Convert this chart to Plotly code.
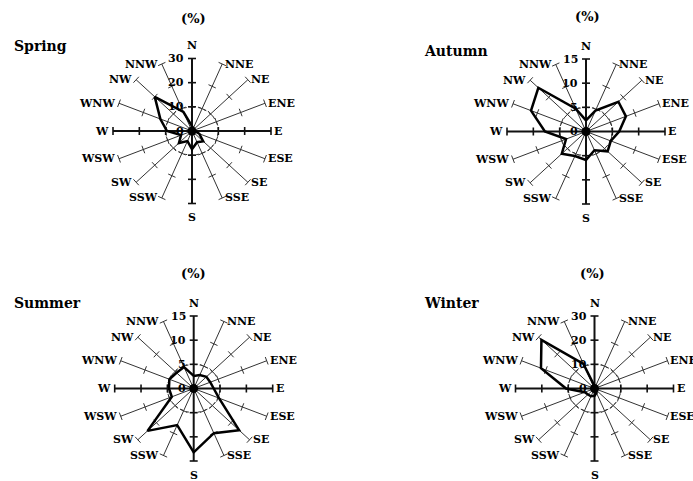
import numpy as np
import plotly.graph_objects as go

# ---------------- data ----------------
directions = ["N", "NNE", "NE", "ENE", "E", "ESE", "SE", "SSE",
              "S", "SSW", "SW", "WSW", "W", "WNW", "NW", "NNW"]
seasons = ["Spring", "Autumn", "Summer", "Winter"]
spring = [2, 1, 1, 1, 1.2, 3, 6, 5, 7.5, 4.5, 7, 4.5, 9.5, 13, 20, 8.5]
autumn = [2.3, 4.7, 8.7, 8.2, 6.3, 5.1, 5.8, 4.2, 5.9, 5.5, 6.5, 4.1, 7.8, 11.3, 12.8, 5.1]
summer = [2.6, 3, 3.4, 3.4, 3.8, 5.2, 12.2, 10, 13.2, 8.2, 12.4, 4.5, 4.7, 5, 4.6, 4.8]
winter = [1, 1, 1, 1, 1, 1, 1, 2, 3, 3.5, 3.5, 4, 10.8, 22, 28.5, 11]
season_values = [spring, autumn, summer, winter]
axis_max = [30, 15, 15, 30]
tick_step = [10, 5, 5, 10]
unit_label = "(%)"

# ---------------- geometry / style ----------------
W, H = 693, 481
RX, RY = 79.0, 72.5           # pixel half-length of spokes (horizontal, vertical)
centers = [(192, 131), (586, 131.5), (193.7, 388.5), (594.5, 388.5)]
boxes = [(0, 346, 0, 240), (346, 693, 0, 240), (0, 346, 240, 481), (346, 693, 240, 481)]
title_pos = [(193.3, 18.3), (587.5, 16.7), (193.3, 273.3), (592.5, 273)]
season_pos = [(11.7, 46.5), (421.7, 51), (11.7, 302.5), (421.7, 302.5)]
FONT = "DejaVu Serif"
TICK_HALF = 4.0
THIN = "#333333"

angles = np.deg2rad(np.arange(len(directions)) * 360.0 / len(directions))

fig = go.Figure()
annotations = []
layout_axes = {}

for k, (name, vals, R, step) in enumerate(zip(seasons, season_values, axis_max, tick_step)):
    cx, cy = centers[k]
    x0, x1, y0, y1 = boxes[k]
    sx, sy = RX / R, RY / R
    sfx = "" if k == 0 else str(k + 1)
    xa, ya = "x" + sfx, "y" + sfx
    layout_axes["xaxis" + sfx] = dict(domain=[x0 / W, x1 / W],
                                      range=[(x0 - cx) / sx, (x1 - cx) / sx],
                                      visible=False, fixedrange=True, anchor=ya)
    layout_axes["yaxis" + sfx] = dict(domain=[1 - y1 / H, 1 - y0 / H],
                                      range=[(cy - y1) / sy, (cy - y0) / sy],
                                      visible=False, fixedrange=True, anchor=xa)

    thin_x, thin_y, thick_x, thick_y = [], [], [], []
    tthin_x, tthin_y, tthick_x, tthick_y = [], [], [], []
    ticks = list(np.arange(step, R + step / 2, step))
    for i, th in enumerate(angles):
        main = (i % 4 == 0)
        sxl, syl = (thick_x, thick_y) if main else (thin_x, thin_y)
        txl, tyl = (tthick_x, tthick_y) if main else (tthin_x, tthin_y)
        sxl += [0, R * np.sin(th), None]
        syl += [0, R * np.cos(th), None]
        ex, ey = np.sin(th) * sx, np.cos(th) * sy
        n = np.hypot(ex, ey)
        ex, ey = ex / n, ey / n
        px, py = -ey * TICK_HALF / sx, ex * TICK_HALF / sy
        for t in ticks:
            bx, by = t * np.sin(th), t * np.cos(th)
            txl += [bx - px, bx + px, None]
            tyl += [by - py, by + py, None]

    fig.add_trace(go.Scatter(x=thin_x, y=thin_y, mode="lines", xaxis=xa, yaxis=ya,
                             line=dict(color=THIN, width=1), hoverinfo="skip", showlegend=False))
    fig.add_trace(go.Scatter(x=tthin_x, y=tthin_y, mode="lines", xaxis=xa, yaxis=ya,
                             line=dict(color=THIN, width=1), hoverinfo="skip", showlegend=False))
    t = np.linspace(0, 2 * np.pi, 121)
    fig.add_trace(go.Scatter(x=step * np.sin(t), y=step * np.cos(t), mode="lines", xaxis=xa, yaxis=ya,
                             line=dict(color=THIN, width=1, dash="3px,3px"),
                             hoverinfo="skip", showlegend=False))
    fig.add_trace(go.Scatter(x=thick_x, y=thick_y, mode="lines", xaxis=xa, yaxis=ya,
                             line=dict(color="#111111", width=2), hoverinfo="skip", showlegend=False))
    fig.add_trace(go.Scatter(x=tthick_x, y=tthick_y, mode="lines", xaxis=xa, yaxis=ya,
                             line=dict(color="#111111", width=1.6), hoverinfo="skip", showlegend=False))
    v = np.array(vals + [vals[0]], dtype=float)
    a = np.append(angles, angles[0])
    fig.add_trace(go.Scatter(x=v * np.sin(a), y=v * np.cos(a), mode="lines", xaxis=xa, yaxis=ya,
                             line=dict(color="black", width=2.5), name=name,
                             text=directions + [directions[0]],
                             hovertemplate="%{text}<extra></extra>", showlegend=False))
    fig.add_trace(go.Scatter(x=[0], y=[0], mode="markers", xaxis=xa, yaxis=ya,
                             marker=dict(color="black", size=9), hoverinfo="skip", showlegend=False))

    for i, th in enumerate(angles):
        ex, ey = R * np.sin(th), R * np.cos(th)
        d = directions[i]
        if d == "N":
            an = dict(xanchor="center", yanchor="middle", yshift=13)
        elif d == "S":
            an = dict(xanchor="center", yanchor="middle", yshift=-14)
        elif np.sin(th) > 1e-6:
            an = dict(xanchor="left", yanchor="middle", xshift=1)
        else:
            an = dict(xanchor="right", yanchor="middle", xshift=-2)
        annotations.append(dict(x=ex, y=ey, xref=xa, yref=ya, text=d,
                                showarrow=False,
                                font=dict(family=FONT, size=11, color="black", weight="bold"), **an))
    for t in [0] + ticks:
        annotations.append(dict(x=0, y=t, xref=xa, yref=ya, text="%g" % t, showarrow=False,
                                xanchor="right", yanchor="middle", xshift=-6,
                                font=dict(family=FONT, size=11, color="black", weight="bold")))
    tx, ty = title_pos[k]
    annotations.append(dict(x=tx / W, y=1 - ty / H, xref="paper", yref="paper", text=unit_label,
                            showarrow=False, xanchor="center", yanchor="middle",
                            font=dict(family=FONT, size=13, color="black", weight="bold")))
    lx, ly = season_pos[k]
    annotations.append(dict(x=lx / W, y=1 - ly / H, xref="paper", yref="paper", text=name,
                            showarrow=False, xanchor="left", yanchor="middle",
                            font=dict(family=FONT, size=14, color="black", weight="bold")))

fig.update_layout(width=W, height=H, margin=dict(l=0, r=0, t=0, b=0),
                  paper_bgcolor="white", plot_bgcolor="white",
                  annotations=annotations, showlegend=False, **layout_axes)
fig.write_html("out.html")
